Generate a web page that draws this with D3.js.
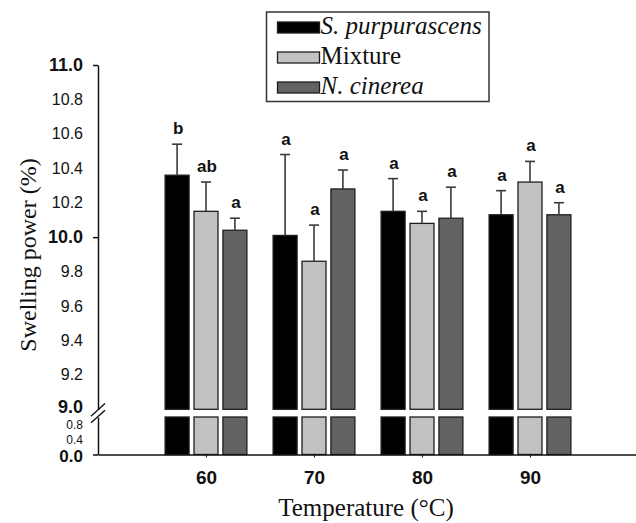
<!DOCTYPE html>
<html>
<head>
<meta charset="utf-8">
<script src="https://cdn.jsdelivr.net/npm/d3@7"></script>
<style>
  body { margin: 0; background: #fff; }
  svg { display: block; }
  .tick text { fill: #111; }
</style>
</head>
<body>
<div id="chart"></div>
<script>
// The data
var temps = [60, 70, 80, 90];
var series = ['S. purpurascens', 'Mixture', 'N. cinerea'];
var sPurpurascens = [10.36, 10.01, 10.15, 10.13];
var mixture = [10.15, 9.86, 10.08, 10.32];
var nCinerea = [10.04, 10.28, 10.11, 10.13];
var sdPurpurascens = [0.18, 0.47, 0.19, 0.14];
var sdMixture = [0.17, 0.21, 0.07, 0.12];
var sdCinerea = [0.07, 0.11, 0.18, 0.07];
var lettersPurpurascens = ['b', 'a', 'a', 'a'];
var lettersMixture = ['ab', 'a', 'a', 'a'];
var lettersCinerea = ['a', 'a', 'a', 'a'];
var upperTicks = [9.0, 9.2, 9.4, 9.6, 9.8, 10.0, 10.2, 10.4, 10.6, 10.8, 11.0];
var lowerTicks = [0.0, 0.4, 0.8];

var colors = { 'S. purpurascens': '#000000', 'Mixture': '#c2c2c2', 'N. cinerea': '#636363' };
var italic = { 'S. purpurascens': true, 'Mixture': false, 'N. cinerea': true };

var width = 636, height = 523;

var svg = d3.select('#chart').append('svg')
    .attr('width', width)
    .attr('height', height);

// Scales: x is linear in temperature, y is broken into two pieces
var x = d3.scaleLinear().domain([50, 100]).range([98, 638]);
var inner = d3.scaleBand().domain(series).range([-40.9, 40.9]).paddingInner(0.17);
var yUp = d3.scaleLinear().domain([9, 11]).range([409.3, 65]);
var yLow = d3.scaleLinear().domain([0, 1]).range([454.5, 417]);

// Build rows, one per bar
var values = [sPurpurascens, mixture, nCinerea];
var sds = [sdPurpurascens, sdMixture, sdCinerea];
var letters = [lettersPurpurascens, lettersMixture, lettersCinerea];
var rows = [];
series.forEach(function(s, si) {
  temps.forEach(function(t, ti) {
    rows.push({ s: s, t: t, v: values[si][ti], sd: sds[si][ti], lab: letters[si][ti] });
  });
});
function cx(d) { return x(d.t) + inner(d.s) + inner.bandwidth() / 2; }

// Upper bar pieces
svg.selectAll('rect.up')
    .data(rows)
    .enter()
  .append('rect')
    .attr('class', 'up')
    .attr('x', function(d) { return x(d.t) + inner(d.s); })
    .attr('y', function(d) { return yUp(d.v); })
    .attr('width', inner.bandwidth())
    .attr('height', function(d) { return yUp(9) - yUp(d.v); })
    .style('fill', function(d) { return colors[d.s]; })
    .style('stroke', '#1e1e1e')
    .style('stroke-width', 1.3);

// Lower bar pieces
svg.selectAll('rect.low')
    .data(rows)
    .enter()
  .append('rect')
    .attr('class', 'low')
    .attr('x', function(d) { return x(d.t) + inner(d.s); })
    .attr('y', function(d) { return yLow(Math.min(d.v, 1)); })
    .attr('width', inner.bandwidth())
    .attr('height', function(d) { return yLow(0) - yLow(Math.min(d.v, 1)); })
    .style('fill', function(d) { return colors[d.s]; })
    .style('stroke', '#1e1e1e')
    .style('stroke-width', 1.3);

// Error bars (upper only)
var err = svg.selectAll('g.err')
    .data(rows)
    .enter()
  .append('g')
    .attr('class', 'err')
    .style('stroke', '#3a3a3a')
    .style('stroke-width', 1.6);
err.append('line')
    .attr('x1', cx).attr('x2', cx)
    .attr('y1', function(d) { return yUp(d.v); })
    .attr('y2', function(d) { return yUp(d.v + d.sd); });
err.append('line')
    .attr('x1', function(d) { return cx(d) - 5; })
    .attr('x2', function(d) { return cx(d) + 5; })
    .attr('y1', function(d) { return yUp(d.v + d.sd); })
    .attr('y2', function(d) { return yUp(d.v + d.sd); });

// Significance letters
svg.selectAll('text.sig')
    .data(rows)
    .enter()
  .append('text')
    .attr('class', 'sig')
    .attr('x', function(d) { return cx(d) + 1; })
    .attr('y', function(d) { return yUp(d.v + d.sd) - 10; })
    .attr('text-anchor', 'middle')
    .style('font-family', 'Liberation Sans, Arial, sans-serif')
    .style('font-weight', 'bold')
    .style('font-size', '17px')
    .style('fill', '#111')
    .text(function(d) { return d.lab; });

// Y axes
var axisUp = svg.append('g')
    .attr('transform', 'translate(' + x(50) + ',0)')
    .call(d3.axisLeft(yUp).tickValues(upperTicks).tickFormat(d3.format('.1f'))
      .tickSizeInner(5).tickSizeOuter(0).tickPadding(10));
var axisLow = svg.append('g')
    .attr('transform', 'translate(' + x(50) + ',0)')
    .call(d3.axisLeft(yLow).tickValues(lowerTicks).tickFormat(d3.format('.1f'))
      .tickSizeInner(5).tickSizeOuter(0).tickPadding(10));

[axisUp, axisLow].forEach(function(a) {
  a.select('.domain').style('stroke', '#111').style('stroke-width', 1.5);
  a.selectAll('.tick line').style('stroke', '#111').style('stroke-width', 1.5);
  a.selectAll('.tick text').style('font-family', 'Liberation Sans, Arial, sans-serif');
});
axisUp.selectAll('.tick').each(function(d) {
  var major = Math.abs(d - Math.round(d)) < 1e-6;
  var t = d3.select(this);
  t.select('text')
      .style('font-weight', major ? 'bold' : 'normal')
      .style('font-size', major ? '18px' : '16px');
  if (!major || d === 9) t.select('line').remove();
  if (d === 9) t.select('text').attr('dy', '0.2em');
});
axisLow.selectAll('.tick').each(function(d) {
  var t = d3.select(this);
  var zero = d === 0;
  t.select('text')
      .style('font-weight', zero ? 'bold' : 'normal')
      .style('font-size', zero ? '17px' : '12px');
  if (!zero) t.select('line').remove();
  if (zero) t.select('text').attr('dy', '0.42em');
});

// Break marks on the y axis
var mid = (yUp(9) + yLow(1)) / 2;
[-3.3, 3.3].forEach(function(o) {
  svg.append('line')
      .attr('x1', x(50) - 7).attr('y1', mid + o + 6.3)
      .attr('x2', x(50) + 7).attr('y2', mid + o - 6.3)
      .style('stroke', '#111')
      .style('stroke-width', 1.4);
});

// X axis
var axisX = svg.append('g')
    .attr('transform', 'translate(0,' + yLow(0) + ')')
    .call(d3.axisBottom(x).tickValues(temps).tickSizeInner(3).tickSizeOuter(0).tickPadding(13));
axisX.select('.domain').style('stroke', '#111').style('stroke-width', 1.5);
axisX.selectAll('.tick line').style('stroke', '#111');
axisX.selectAll('.tick text')
    .style('font-family', 'Liberation Sans, Arial, sans-serif')
    .style('font-weight', 'bold')
    .style('font-size', '19px');

// Axis titles
svg.append('text')
    .attr('x', 366)
    .attr('y', 516)
    .attr('text-anchor', 'middle')
    .style('font-family', 'Liberation Serif, Times New Roman, serif')
    .style('font-size', '25px')
    .style('fill', '#111')
    .text('Temperature (°C)');

svg.append('text')
    .attr('transform', 'translate(36,255) rotate(-90)')
    .attr('text-anchor', 'middle')
    .style('font-family', 'Liberation Serif, Times New Roman, serif')
    .style('font-size', '24px')
    .style('fill', '#111')
    .text('Swelling power (%)');

// Legend
var legend = svg.append('g');
legend.append('rect')
    .attr('x', 266.5).attr('y', 12)
    .attr('width', 222.5).attr('height', 89.5)
    .style('fill', 'none')
    .style('stroke', '#333')
    .style('stroke-width', 1.5);
var item = legend.selectAll('g.item')
    .data(series)
    .enter()
  .append('g')
    .attr('class', 'item')
    .attr('transform', function(d, i) { return 'translate(277.5,' + (22 + i * 30) + ')'; });
item.append('rect')
    .attr('width', 42).attr('height', 11)
    .style('fill', function(d) { return colors[d]; })
    .style('stroke', '#1e1e1e')
    .style('stroke-width', 1.3);
item.append('text')
    .attr('x', 43)
    .attr('y', 12)
    .style('font-family', 'Liberation Serif, Times New Roman, serif')
    .style('font-size', '25px')
    .style('font-style', function(d) { return italic[d] ? 'italic' : 'normal'; })
    .style('fill', '#111')
    .text(function(d) { return d; });
</script>
</body>
</html>
